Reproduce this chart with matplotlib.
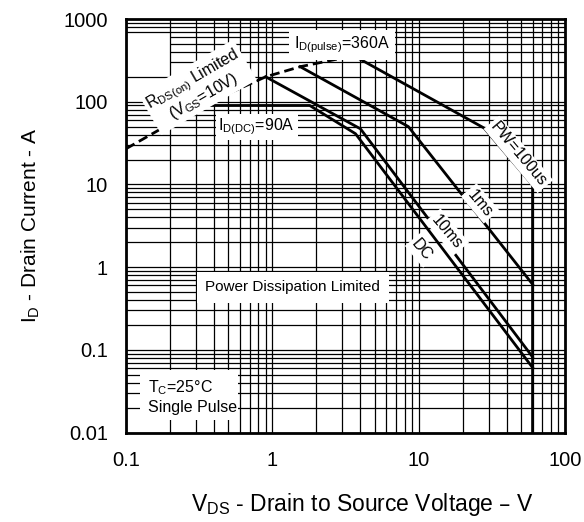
import matplotlib
matplotlib.use("Agg")
import matplotlib.pyplot as plt
from matplotlib.patches import Rectangle

plt.rcParams['font.family'] = ['Liberation Sans', 'DejaVu Sans']
plt.rcParams['mathtext.default'] = 'regular'

# Safe operating area boundaries (VDS in V, ID in A)
rds_v = [0.1, 0.33, 0.9, 1.55, 3.6]
rds_i = [27, 90, 200, 265, 360]

pw100us_v = [3.6, 28, 60, 60]
pw100us_i = [360, 48, 9.8, 0.01]

pw1ms_v = [1.55, 8.5, 60]
pw1ms_i = [265, 50, 0.62]

pw10ms_v = [0.9, 4.0, 60]
pw10ms_i = [200, 47, 0.082]

dc_v = [0.32, 1.8, 3.7, 60]
dc_i = [90, 90, 41, 0.061]

fig = plt.figure(figsize=(5.84, 5.22), dpi=100)
ax = fig.add_axes([0.2158, 0.1714, 0.7517, 0.7922])
ax.set_xscale('log')
ax.set_yscale('log')
ax.set_xlim(0.1, 100)
ax.set_ylim(0.01, 1000)

# log grid drawn by hand
for dec in [0.01, 0.1, 1, 10, 100]:
    for k in range(1, 10):
        ax.axhline(dec * k, color='black', lw=0.9, zorder=1)
for dec in [0.1, 1, 10]:
    for k in range(1, 10):
        ax.axvline(dec * k, color='black', lw=0.9, zorder=2)

# blank patch in the upper-left corner (horizontal lines hidden)
ax.add_patch(Rectangle((0.1, 250), 0.1, 400, facecolor='white',
                       edgecolor='none', zorder=1.5))

lw = 2.0
ax.plot(rds_v, rds_i, color='black', lw=lw, ls=(0, (3.5, 1.8)), zorder=4)
ax.plot(pw100us_v, pw100us_i, color='black', lw=lw, zorder=4)
ax.plot(pw1ms_v, pw1ms_i, color='black', lw=lw, zorder=4)
ax.plot(pw10ms_v, pw10ms_i, color='black', lw=lw, zorder=4)
ax.plot(dc_v, dc_i, color='black', lw=lw, zorder=4)

box = dict(facecolor='white', edgecolor='none', pad=2)
fs = 11.5

ax.text(3.0, 490, r'I$_{D(pulse)}$=360A', fontsize=fs, ha='center', va='center',
        bbox=dict(facecolor='white', edgecolor='none', pad=3.5), zorder=5)
ax.text(0.78, 50, r'I$_{D(DC)}$=90A', fontsize=fs, ha='center', va='center', bbox=box, zorder=5)
ax.text(0.31, 147, 'R$_{DS(on)}$ Limited\n(V$_{GS}$=10V)', fontsize=fs, ha='center', va='center',
        rotation=30, linespacing=1.0, bbox=box, zorder=5)
ax.text(48, 23, 'PW=100us', fontsize=fs, ha='center', va='center', rotation=-50, bbox=box, zorder=5)
ax.text(26.3, 5.9, '1ms', fontsize=fs, ha='center', va='center', rotation=-50, bbox=box, zorder=5)
ax.text(15.6, 2.66, '10ms', fontsize=fs, ha='center', va='center', rotation=-50, bbox=box, zorder=5)
ax.text(10.5, 1.6, 'DC', fontsize=fs, ha='center', va='center', rotation=-50, bbox=box, zorder=5)
ax.text(1.377, 0.57, 'Power Dissipation Limited', fontsize=11, ha='center', va='center',
        bbox=dict(facecolor='white', edgecolor='none', pad=6), zorder=5)

# test conditions in the lower-left corner
ax.add_patch(Rectangle((0.125, 0.0140), 0.46, 0.0425, facecolor='white',
                       edgecolor='none', zorder=3))
ax.text(0.142, 0.0272, 'T$_C$=25\u00b0C\nSingle Pulse', fontsize=fs, ha='left', va='center',
        linespacing=1.2, zorder=5)

for s in ax.spines.values():
    s.set_linewidth(2)
    s.set_zorder(6)

ax.set_xticks([0.1, 1, 10, 100])
ax.set_xticklabels(['0.1', '1', '10', '100'])
ax.set_yticks([0.01, 0.1, 1, 10, 100, 1000])
ax.set_yticklabels(['0.01', '0.1', '1', '10', '100', '1000'])
ax.minorticks_off()
ax.tick_params(axis='y', length=0, labelsize=14.5, pad=13)
ax.tick_params(axis='x', length=0, labelsize=14.5, pad=13)

fig.text(362 / 584, 1 - 504 / 522, 'V$_{DS}$ - Drain to Source Voltage \u2013 V', fontsize=16.5,
         ha='center', va='center')
fig.text(31 / 584, 1 - 225 / 522, 'I$_D$ - Drain Current - A', fontsize=15,
         ha='center', va='center', rotation=90)

fig.savefig('out.png', dpi=100)
